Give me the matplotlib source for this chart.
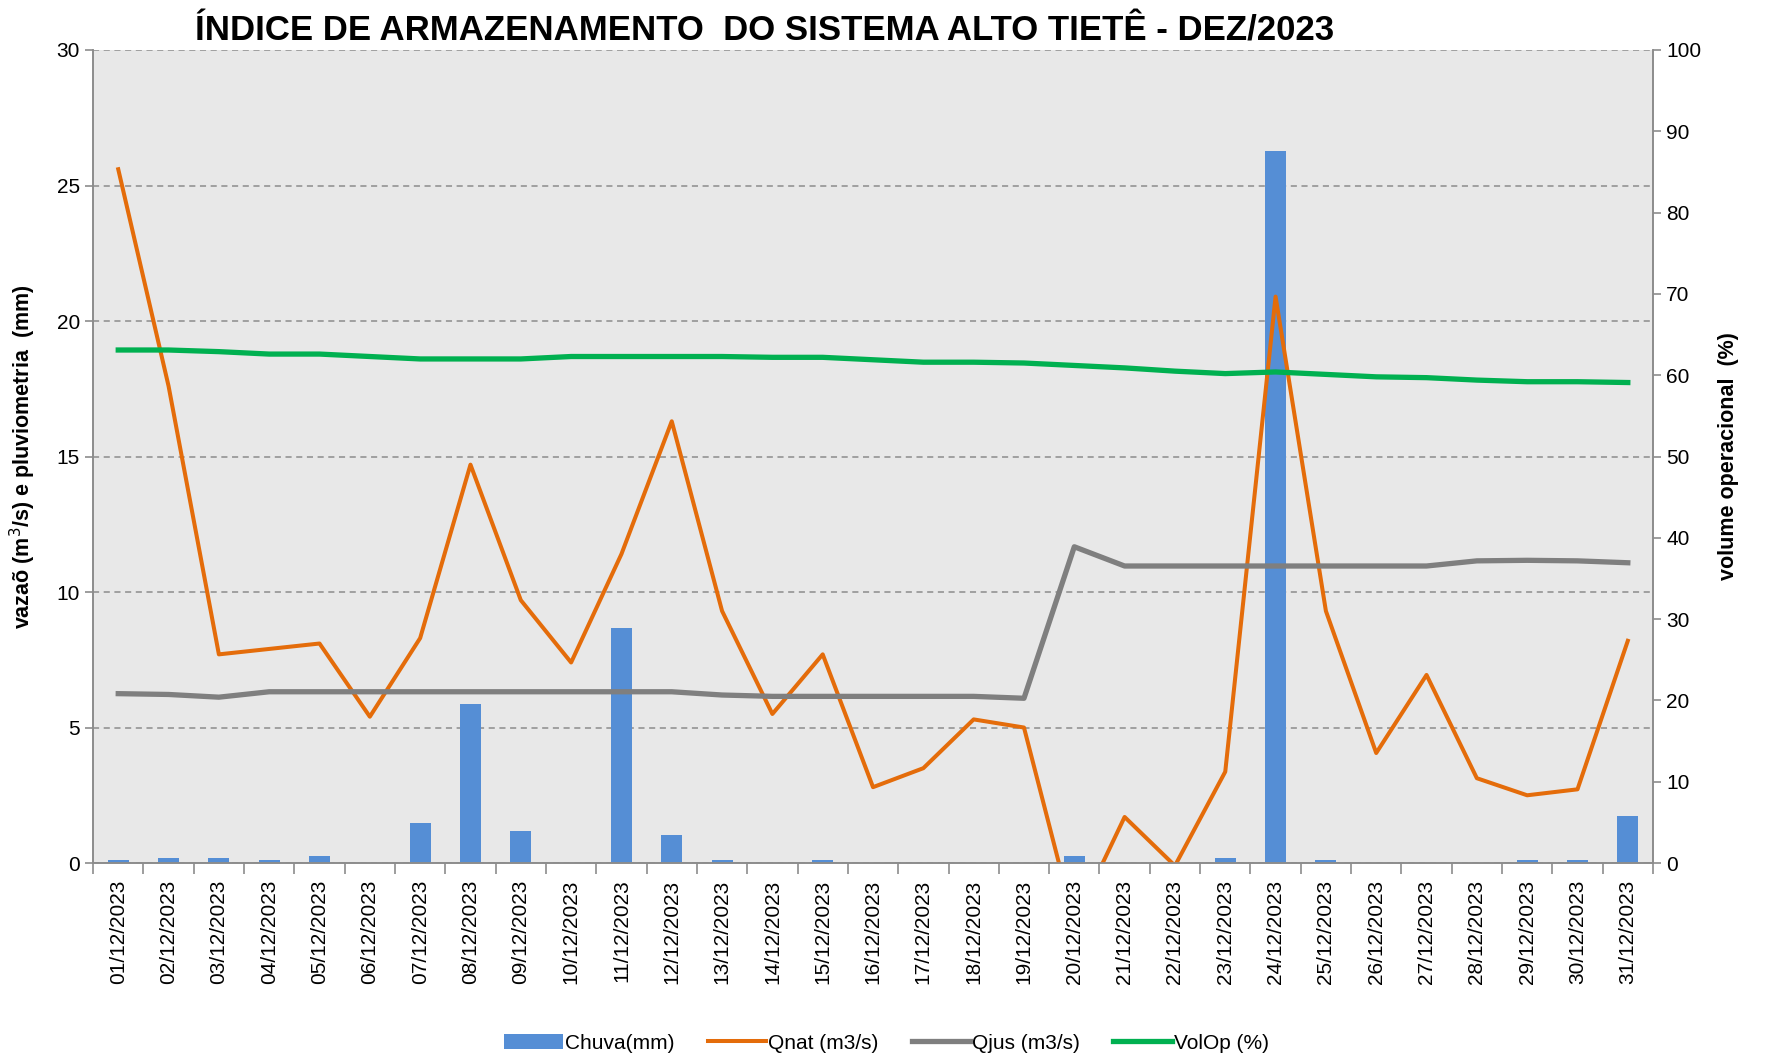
import numpy as np
import matplotlib
matplotlib.use("Agg")
import matplotlib.pyplot as plt
from matplotlib.ticker import MultipleLocator, FixedLocator

plt.rcParams['font.family'] = ['Liberation Sans Narrow', 'Liberation Sans', 'DejaVu Sans']

# ------------------------------------------------------------------
# data (Dez/2023)
# ------------------------------------------------------------------
dias = ["%02d/12/2023" % d for d in range(1, 32)]

chuva = [0.11, 0.18, 0.18, 0.11, 0.26, 0.0, 1.46, 5.88, 1.19, 0.0,
         8.66, 1.03, 0.11, 0.0, 0.11, 0.0, 0.0, 0.0, 0.0, 0.26,
         0.0, 0.0, 0.18, 26.28, 0.11, 0.0, 0.0, 0.0, 0.11, 0.11, 1.74]

qnat = [25.6, 17.6, 7.7, 7.9, 8.1, 5.4, 8.3, 14.7, 9.7, 7.4,
        11.4, 16.3, 9.3, 5.5, 7.7, 2.8, 3.5, 5.3, 5.0, -2.2,
        1.7, -0.1, 3.37, 20.9, 9.3, 4.06, 6.94, 3.13, 2.5, 2.72, 8.2]

qjus = [6.25, 6.22, 6.12, 6.32, 6.32, 6.32, 6.32, 6.32, 6.32, 6.32,
        6.32, 6.32, 6.2, 6.15, 6.15, 6.15, 6.15, 6.15, 6.08, 11.67,
        10.96, 10.96, 10.96, 10.96, 10.96, 10.96, 10.96, 11.15, 11.17, 11.15, 11.08]

volop = [63.1, 63.1, 62.9, 62.6, 62.6, 62.3, 62.0, 62.0, 62.0, 62.3,
         62.3, 62.3, 62.3, 62.2, 62.2, 61.9, 61.6, 61.6, 61.5, 61.2,
         60.9, 60.5, 60.2, 60.4, 60.1, 59.8, 59.7, 59.4, 59.2, 59.2, 59.1]

x = np.arange(len(dias))

# ------------------------------------------------------------------
# figure
# ------------------------------------------------------------------
fig = plt.figure(figsize=(17.73, 10.57), dpi=100)
ax = fig.add_axes([0.0525, 0.1835, 0.8798, 0.7692])
ax.set_facecolor("#E8E8E8")

ax.bar(x, chuva, width=0.42, color="#558ED5", label="Chuva(mm)", zorder=2)
ax.plot(x, qnat, color="#E46C0A", lw=2.9, label="Qnat (m3/s)", zorder=3)
ax.plot(x, qjus, color="#7F7F7F", lw=3.8, label="Qjus (m3/s)", zorder=3)

ax.set_xlim(-0.5, len(dias) - 0.5)
ax.set_ylim(0, 30)
ax.yaxis.set_major_locator(MultipleLocator(5))
ax.grid(axis="y", color="#8C8C8C", ls=(0, (4, 3)), lw=1.1, zorder=1)

# category labels at centers, tick marks at boundaries
ax.set_xticks(x)
ax.set_xticklabels(dias, rotation=90, fontsize=15)
ax.tick_params(axis="x", which="major", length=0, pad=12)
ax.xaxis.set_minor_locator(FixedLocator(np.arange(-0.5, len(dias), 1.0)))
ax.tick_params(axis="x", which="minor", length=8, color="#8C8C8C", width=1.2)
ax.tick_params(axis="y", labelsize=15, length=6, color="#8C8C8C", width=1.2)

ax.spines["top"].set_visible(False)
for s in ["left", "right", "bottom"]:
    ax.spines[s].set_color("#8C8C8C")
    ax.spines[s].set_linewidth(1.2)

ax.set_ylabel("vazaõ (m$^3$/s) e pluviometria  (mm)", fontsize=15.5, fontweight="bold",
              family=["Liberation Sans", "DejaVu Sans"], labelpad=13)

# right axis: volume operacional
ax2 = ax.twinx()
ax2.plot(x, volop, color="#00B050", lw=3.8, label="VolOp (%)", zorder=3)
ax2.set_ylim(0, 100)
ax2.yaxis.set_major_locator(MultipleLocator(10))
ax2.tick_params(axis="y", labelsize=15, length=6, color="#8C8C8C", width=1.2)
ax2.spines["top"].set_visible(False)
for s in ["left", "right", "bottom"]:
    ax2.spines[s].set_color("#8C8C8C")
    ax2.spines[s].set_linewidth(1.2)
ax2.set_ylabel("volume operacional  (%)", fontsize=15.5, fontweight="bold",
               family=["Liberation Sans", "DejaVu Sans"], labelpad=12)

fig.text(0.431, 0.971, "ÍNDICE DE ARMAZENAMENTO  DO SISTEMA ALTO TIETÊ - DEZ/2023",
         ha="center", va="center", fontsize=25, fontweight="bold")

h1, l1 = ax.get_legend_handles_labels()
h2, l2 = ax2.get_legend_handles_labels()
# bar first, as in the original legend
order = [2, 0, 1]
handles = [h1[i] for i in order] + h2
labels = [l1[i] for i in order] + l2
fig.legend(handles, labels, loc="center", bbox_to_anchor=(0.5, 0.013), ncol=4,
           frameon=False, fontsize=15, handlelength=2.8, handletextpad=0.1,
           columnspacing=1.6)

fig.savefig("out.png", dpi=100)
